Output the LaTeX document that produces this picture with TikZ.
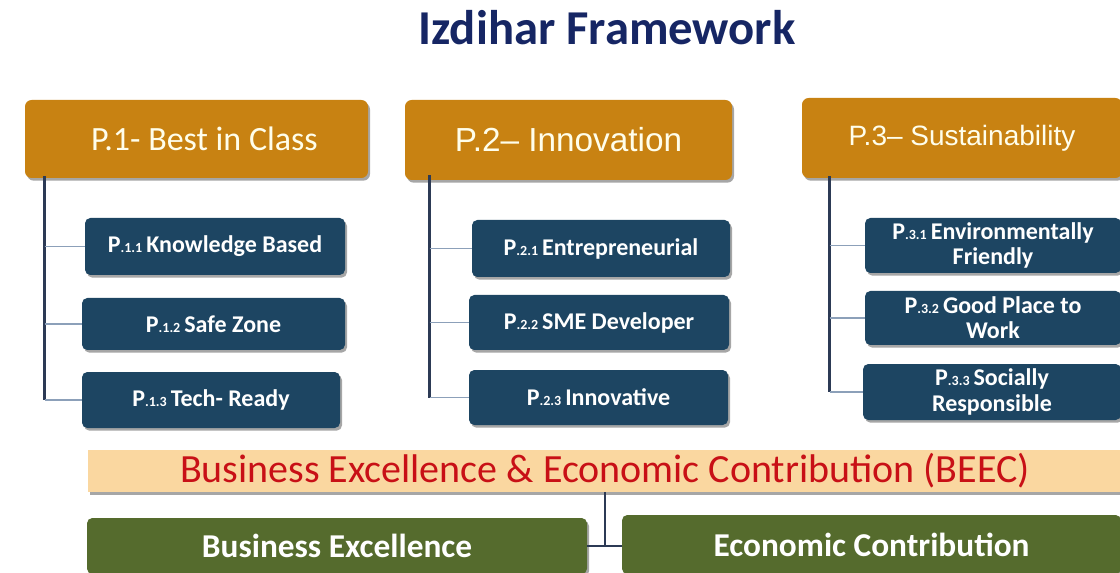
\documentclass[tikz,border=0pt]{standalone}
\usepackage{fontspec}
\setmainfont{Carlito}
\newfontfamily\arialfont{Liberation Sans}
\usetikzlibrary{positioning,shadows}

\definecolor{titleblue}{RGB}{22,38,100}
\definecolor{pillarorange}{RGB}{200,130,18}
\definecolor{goalblue}{RGB}{29,69,98}
\definecolor{beecpeach}{RGB}{250,215,160}
\definecolor{beecred}{RGB}{200,16,22}
\definecolor{olivegreen}{RGB}{85,107,45}
\definecolor{trunkline}{RGB}{44,58,85}
\definecolor{twigline}{RGB}{140,160,185}

\newcommand{\px}{0.75pt}
\newcommand{\pnum}[1]{P{\fontsize{10.5}{10.5}\selectfont.#1}\,}

\begin{document}
\begin{tikzpicture}[x=0.75pt,y=-0.75pt,
    boxshadow/.style={drop shadow={shadow xshift=1.5pt,shadow yshift=-2pt,opacity=.35,fill=black}},
    pillar/.style={fill=pillarorange,rounded corners=5pt,boxshadow,text=white!92!yellow,inner sep=0pt},
    goal/.style={fill=goalblue,rounded corners=4pt,boxshadow,text=white,inner sep=0pt,align=center,
        font=\fontsize{18}{19}\selectfont\bfseries},
    result/.style={fill=olivegreen,rounded corners=4pt,boxshadow,text=white,inner sep=0pt,
        font=\fontsize{25}{26}\selectfont\bfseries},
    trunk/.style={trunkline,line width=2pt},
    twig/.style={twigline,line width=1pt}]

    \useasboundingbox (0,0) rectangle (1120,573);
    \clip (0,0) rectangle (1120,573);

    % Title
    \node[text=titleblue,font=\fontsize{36.5}{38}\selectfont\bfseries] (title) at (607,28) {Izdihar Framework};

    % Pillars
    \node[pillar,minimum width=343*\px,minimum height=78*\px,font=\fontsize{25.5}{27}\selectfont] (p1) at (196.5,139) {\hspace{12pt}P.1- Best in Class};
    \node[pillar,minimum width=327*\px,minimum height=80*\px,font=\arialfont\fontsize{25}{27}\selectfont] (p2) at (568.5,140) {P.2{\textendash} Innovation};
    \node[pillar,minimum width=320*\px,minimum height=80*\px,font=\arialfont\fontsize{21}{23}\selectfont] (p3) at (962,138) {P.3{\textendash} Sustainability};

    % Goals of P.1
    \node[goal,minimum width=260*\px,minimum height=57*\px] (c11) at (215,246.5) {\pnum{1.1}Knowledge Based};
    \node[goal,minimum width=263*\px,minimum height=52*\px] (c12) at (213.5,324) {\pnum{1.2}Safe Zone};
    \node[goal,minimum width=258*\px,minimum height=56*\px] (c13) at (211,400) {\pnum{1.3}Tech- Ready};

    % Goals of P.2
    \node[goal,minimum width=258*\px,minimum height=57*\px] (c21) at (601,248.5) {\pnum{2.1}Entrepreneurial};
    \node[goal,minimum width=260*\px,minimum height=55*\px] (c22) at (599,322.5) {\pnum{2.2}SME Developer};
    \node[goal,minimum width=259*\px,minimum height=55*\px] (c23) at (598.5,397.5) {\pnum{2.3}Innovative};

    % Goals of P.3
    \node[goal,minimum width=256*\px,minimum height=55*\px] (c31) at (993,245.5) {\pnum{3.1}Environmentally\\Friendly};
    \node[goal,minimum width=256*\px,minimum height=54*\px] (c32) at (993,318) {\pnum{3.2}Good Place to\\Work};
    \node[goal,minimum width=258*\px,minimum height=56*\px] (c33) at (992,392) {\pnum{3.3}Socially\\Responsible};

    % Tree lines
    \draw[trunk] (p1.south west) ++(20,-2) coordinate (t1) -- (t1 |- c13.west);
    \draw[trunk] (p2.south west) ++(25,-5) coordinate (t2) -- (t2 |- c23.west);
    \draw[trunk] (p3.south west) ++(28,-2) coordinate (t3) -- (t3 |- c33.west);
    \foreach \t/\c in {t1/c11,t1/c12,t1/c13,t2/c21,t2/c22,t2/c23,t3/c31,t3/c32,t3/c33}
        \draw[twig] (\t |- \c.west) -- (\c.west);

    % BEEC
    \node[fill=beecpeach,boxshadow,minimum width=1034*\px,minimum height=42*\px,inner sep=0pt,
        text=beecred,font=\fontsize{30}{31}\selectfont] (beec) at (605,471) {Business Excellence \& Economic Contribution (BEEC)};
    \node[result,minimum width=500*\px,minimum height=56*\px] (bex) at (337,546) {Business Excellence};
    \node[result,minimum width=499*\px,minimum height=59*\px] (ecc) at (871.5,544.5) {Economic Contribution};
    \draw[trunkline,line width=1pt] (beec.south) -- (beec.south |- bex.east);
    \draw[trunkline,line width=1pt] (bex.east) -- (bex.east -| ecc.west);
\end{tikzpicture}
\end{document}
